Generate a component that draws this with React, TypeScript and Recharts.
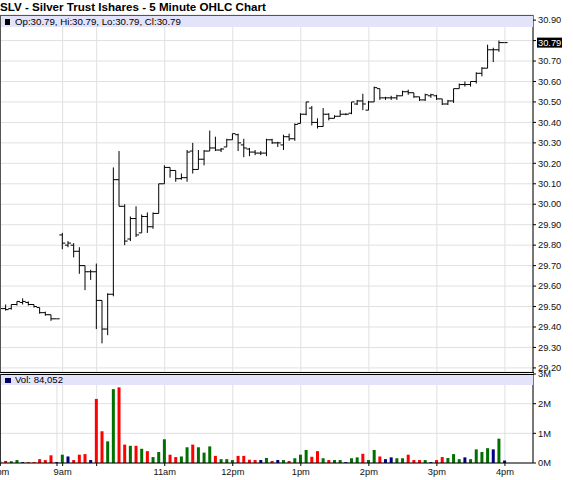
import { ComposedChart, Bar, XAxis, YAxis, CartesianGrid, ReferenceLine, Cell } from "recharts";

// 5-minute bars. slot 1 = 3:05pm of the prior session, slot 12 = 9:30am open, slot 90 = 4:00pm
const opens = [
  29.495, 29.49, 29.49, 29.51, 29.52, 29.52, 29.51, 29.495, 29.47, 29.46, 29.44,
  29.85, 29.8, 29.8, 29.77, 29.7, 29.67, 29.67, 29.53, 29.39, 29.56, 30.12, 29.99, 29.83, 29.93, 29.86, 29.94, 29.89, 29.955, 30.1,
  30.18, 30.165, 30.125, 30.13, 30.26, 30.17, 30.22, 30.26, 30.275, 30.265, 30.28, 30.315,
  30.34, 30.29, 30.27, 30.255, 30.25, 30.25, 30.315, 30.3, 30.29, 30.33, 30.32, 30.395,
  30.44, 30.47, 30.4, 30.38, 30.44, 30.42, 30.43, 30.44, 30.445, 30.49, 30.505, 30.46,
  30.5, 30.565, 30.52, 30.52, 30.52, 30.53, 30.55, 30.545, 30.525, 30.51, 30.53, 30.53,
  30.515, 30.49, 30.505, 30.565, 30.585, 30.585, 30.6, 30.64, 30.665, 30.755, 30.755, 30.79,
];
const highs = [
  29.5, 29.51, 29.51, 29.525, 29.54, 29.525, 29.51, 29.495, 29.475, 29.46, 29.44,
  29.86, 29.82, 29.81, 29.79, 29.7, 29.68, 29.71, 29.53, 29.565, 30.18, 30.26, 30.0, 29.94, 29.99, 29.95, 29.96, 29.96, 30.1, 30.19,
  30.18, 30.165, 30.15, 30.265, 30.3, 30.265, 30.265, 30.36, 30.33, 30.275, 30.32, 30.345,
  30.345, 30.32, 30.275, 30.265, 30.26, 30.32, 30.32, 30.305, 30.34, 30.345, 30.395, 30.445,
  30.5, 30.48, 30.42, 30.47, 30.445, 30.435, 30.46, 30.445, 30.5, 30.51, 30.54, 30.505,
  30.575, 30.565, 30.525, 30.53, 30.535, 30.555, 30.56, 30.545, 30.525, 30.54, 30.54, 30.535,
  30.515, 30.51, 30.565, 30.59, 30.6, 30.6, 30.645, 30.67, 30.78, 30.765, 30.8, 30.79,
];
const lows = [
  29.48, 29.48, 29.485, 29.505, 29.51, 29.505, 29.495, 29.465, 29.455, 29.43, 29.44,
  29.78, 29.79, 29.74, 29.66, 29.58, 29.63, 29.39, 29.32, 29.36, 29.55, 29.99, 29.8, 29.82, 29.84, 29.86, 29.86, 29.88, 29.955, 30.1,
  30.13, 30.11, 30.12, 30.11, 30.15, 30.17, 30.19, 30.26, 30.26, 30.255, 30.28, 30.315,
  30.26, 30.23, 30.235, 30.24, 30.24, 30.235, 30.295, 30.28, 30.265, 30.31, 30.31, 30.395,
  30.435, 30.385, 30.37, 30.38, 30.41, 30.42, 30.428, 30.435, 30.44, 30.485, 30.46, 30.46,
  30.5, 30.51, 30.51, 30.51, 30.51, 30.53, 30.535, 30.52, 30.505, 30.505, 30.52, 30.51,
  30.485, 30.485, 30.495, 30.565, 30.575, 30.575, 30.59, 30.625, 30.665, 30.695, 30.745, 30.79,
];
const closes = [
  29.49, 29.485, 29.51, 29.525, 29.525, 29.51, 29.5, 29.47, 29.46, 29.44, 29.44,
  29.81, 29.81, 29.77, 29.7, 29.67, 29.67, 29.53, 29.39, 29.56, 30.12, 29.99, 29.82, 29.93, 29.85, 29.94, 29.89, 29.955, 30.1, 30.18,
  30.165, 30.125, 30.13, 30.255, 30.17, 30.22, 30.26, 30.275, 30.265, 30.27, 30.315, 30.345,
  30.3, 30.275, 30.255, 30.25, 30.25, 30.315, 30.3, 30.3, 30.33, 30.32, 30.39, 30.44,
  30.5, 30.4, 30.38, 30.44, 30.42, 30.43, 30.44, 30.44, 30.5, 30.505, 30.49, 30.5,
  30.57, 30.52, 30.52, 30.52, 30.53, 30.55, 30.545, 30.525, 30.51, 30.535, 30.535, 30.515,
  30.49, 30.505, 30.565, 30.585, 30.585, 30.6, 30.64, 30.665, 30.755, 30.755, 30.79, 30.79,
];
// millions of shares
const volumes = [
  0.05, 0.07, 0.06, 0.1, 0.03, 0.03, 0.03, 0.13, 0.1, 0.26, 0.03,
  0.28, 0.22, 0.1, 0.28, 0.3, 0.1, 2.16, 1.07, 0.73, 2.49, 2.55, 0.62, 0.58, 0.58, 0.48, 0.4, 0.2, 0.37, 0.8,
  0.28, 0.2, 0.22, 0.53, 0.62, 0.53, 0.35, 0.56, 0.24, 0.13, 0.13, 0.1,
  0.24, 0.24, 0.11, 0.1, 0.1, 0.17, 0.07, 0.1, 0.1, 0.07, 0.16, 0.28,
  0.44, 0.21, 0.4, 0.16, 0.1, 0.1, 0.1, 0.03, 0.16, 0.19, 0.31, 0.1,
  0.44, 0.22, 0.13, 0.19, 0.16, 0.16, 0.28, 0.1, 0.1, 0.1, 0.03, 0.1,
  0.2, 0.17, 0.3, 0.13, 0.19, 0.13, 0.46, 0.37, 0.5, 0.46, 0.82, 0.084052,
];

const timeTicks = [1, 11, 12, 18, 30, 42, 54, 66, 78, 90];
const timeLabels = ["3pm", "", "9am", "", "11am", "12pm", "1pm", "2pm", "3pm", "4pm"];
const priceTicks = [29.2, 29.3, 29.4, 29.5, 29.6, 29.7, 29.8, 29.9, 30.0, 30.1, 30.2, 30.3, 30.4, 30.5, 30.6, 30.7, 30.8, 30.9];
const volumeTicks = [0, 1, 2, 3];

const FONT = "'Liberation Sans', Arial, sans-serif";
const UP = "#007100";
const DOWN = "#ff0000";
const FLAT = "#000080";
const BAND = "#e3e3fa";
const GRID = "#e0e0e0";
const X_DOMAIN = [0.95, 94.95];

const rows = closes.map((c, k) => ({
  slot: k + 1,
  open: opens[k],
  high: highs[k],
  low: lows[k],
  close: c,
  range: [lows[k], highs[k]],
  volume: volumes[k],
}));

const last = rows[rows.length - 1];

function volColor(k: number) {
  const prev = k === 0 ? opens[0] : closes[k - 1];
  if (closes[k] > prev) return UP;
  if (closes[k] < prev) return DOWN;
  return FLAT;
}

function OhlcShape(props: any) {
  const { x, y, width, height, payload } = props;
  const top = Math.min(y, y + height);
  const h = Math.abs(height);
  const cx = x + width / 2;
  const span = payload.high - payload.low;
  const k = span > 0 ? h / span : 0;
  const yo = top + (payload.high - payload.open) * k;
  const yc = top + (payload.high - payload.close) * k;
  return (
    <g stroke="#000" strokeWidth={1}>
      {h > 0 && <line x1={cx} x2={cx} y1={top} y2={top + h} />}
      <line x1={cx - 3} x2={cx} y1={yo} y2={yo} />
      <line x1={cx} x2={cx + 3} y1={yc} y2={yc} />
    </g>
  );
}

function PriceTick(props: any) {
  const { x, y, payload } = props;
  if (Math.abs(payload.value - 30.8) < 0.001) return null;
  return (
    <text x={x} y={y} dy="0.35em" fontSize={9.3} fontFamily={FONT} fill="#111">
      {payload.value.toFixed(2)}
    </text>
  );
}

function LastPriceLabel(props: any) {
  const vb = props.viewBox || {};
  const x = vb.x + vb.width;
  const y = vb.y;
  return (
    <g>
      <rect x={x + 4} y={y - 5} width={25} height={10} fill="#000" />
      <text x={x + 5} y={y + 3.4} fontSize={9.3} fontFamily={FONT} fill="#fff">
        {last.close.toFixed(2)}
      </text>
    </g>
  );
}

export default function App() {
  return (
    <div style={{ position: "relative", width: 573, height: 480, background: "#fff", fontFamily: FONT, overflow: "hidden" }}>
      <style>{`body{margin:0}`}</style>
      <div style={{ position: "absolute", left: 0, top: 0, fontSize: 11.6, fontWeight: "bold", color: "#000", lineHeight: "13px", whiteSpace: "nowrap" }}>
        SLV - Silver Trust Ishares - 5 Minute OHLC Chart
      </div>

      <div style={{ position: "absolute", left: 0, top: 0 }}>
        <ComposedChart width={573} height={374} data={rows} margin={{ top: 15, right: 0, bottom: 2, left: 0 }}>
          <CartesianGrid stroke={GRID} />
          <XAxis dataKey="slot" type="number" domain={X_DOMAIN} ticks={timeTicks} allowDataOverflow hide />
          <YAxis
            orientation="right"
            domain={[29.18, 30.925]}
            ticks={priceTicks}
            allowDataOverflow
            width={40}
            interval={0}
            axisLine={{ stroke: "#000" }}
            tickLine={{ stroke: "#000" }}
            tickSize={3}
            tickMargin={2}
            tick={<PriceTick />}
          />
          <Bar dataKey="range" barSize={5} shape={OhlcShape} isAnimationActive={false} />
          <ReferenceLine y={last.close} stroke="none" label={<LastPriceLabel />} />
        </ComposedChart>
      </div>

      <div style={{ position: "absolute", left: 0, top: 368 }}>
        <ComposedChart width={573} height={112} data={rows} margin={{ top: 6, right: 0, bottom: 0, left: 0 }}>
          <CartesianGrid stroke={GRID} />
          <XAxis
            dataKey="slot"
            type="number"
            domain={X_DOMAIN}
            ticks={timeTicks}
            allowDataOverflow
            interval={0}
            height={17}
            tickSize={3}
            tickMargin={2}
            axisLine={{ stroke: "#000" }}
            tickLine={{ stroke: "#000" }}
            tick={{ fontSize: 9.3, fill: "#111", fontFamily: FONT }}
            tickFormatter={(v: number) => timeLabels[timeTicks.indexOf(v)] ?? ""}
          />
          <YAxis
            orientation="right"
            domain={[0, 3]}
            ticks={volumeTicks}
            allowDataOverflow
            width={40}
            interval={0}
            axisLine={{ stroke: "#000" }}
            tickLine={{ stroke: "#000" }}
            tickSize={3}
            tickMargin={2}
            tick={{ fontSize: 9.3, fill: "#111", fontFamily: FONT }}
            tickFormatter={(v: number) => `${v}M`}
          />
          <Bar dataKey="volume" barSize={3} isAnimationActive={false}>
            {rows.map((r, k) => (
              <Cell key={r.slot} fill={volColor(k)} />
            ))}
          </Bar>
        </ComposedChart>
      </div>

      {/* panel frames and legend bands */}
      <div style={{ position: "absolute", left: 0, top: 15, width: 533, height: 1, background: "#555" }} />
      <div style={{ position: "absolute", left: 0, top: 372, width: 534, height: 1, background: "#000" }} />
      <div style={{ position: "absolute", left: 0, top: 374, width: 534, height: 1, background: "#000" }} />
      <div style={{ position: "absolute", left: 0, top: 15, width: 1, height: 357, background: "#555" }} />
      <div style={{ position: "absolute", left: 0, top: 374, width: 1, height: 89, background: "#333" }} />

      <div style={{ position: "absolute", left: 1, top: 16, width: 532, height: 11, background: BAND, fontSize: 9.7, lineHeight: "11px", whiteSpace: "nowrap" }}>
        <span style={{ position: "absolute", left: 4, top: 3, width: 5, height: 6, background: "#000" }} />
        <span style={{ position: "absolute", left: 14, top: 0, color: "#000" }}>
          {`Op:${last.open.toFixed(2)}, Hi:${last.high.toFixed(2)}, Lo:${last.low.toFixed(2)}, Cl:${last.close.toFixed(2)}`}
        </span>
      </div>

      <div style={{ position: "absolute", left: 1, top: 375, width: 532, height: 10, background: BAND, fontSize: 9.6, lineHeight: "10px", whiteSpace: "nowrap" }}>
        <span style={{ position: "absolute", left: 4, top: 2.5, width: 6, height: 5, background: "#000066" }} />
        <span style={{ position: "absolute", left: 14, top: 0, color: "#000" }}>
          {`Vol: ${Math.round(last.volume * 1e6).toLocaleString("en-US")}`}
        </span>
      </div>
    </div>
  );
}
